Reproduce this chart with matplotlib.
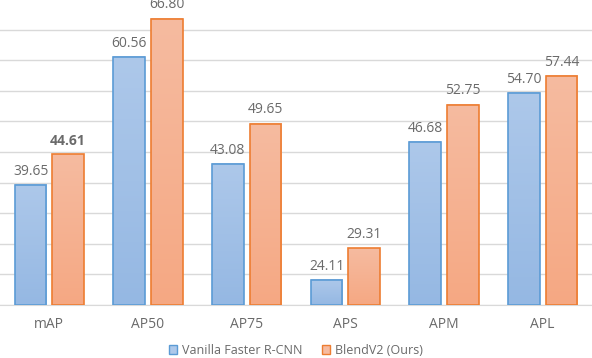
import numpy as np
import matplotlib.pyplot as plt
from matplotlib.colors import LinearSegmentedColormap

categories = ['mAP', 'AP50', 'AP75', 'APS', 'APM', 'APL']
vanilla = [39.65, 60.56, 43.08, 24.11, 46.68, 54.70]
blendv2 = [44.61, 66.80, 49.65, 29.31, 52.75, 57.44]
series_names = ['Vanilla Faster R-CNN', 'BlendV2 (Ours)']

plt.rcParams['font.family'] = ['Open Sans', 'DejaVu Sans']

fig = plt.figure(figsize=(5.92, 3.58), dpi=100)
ax = fig.add_axes([0, 53 / 358, 1, 306 / 358])

x = np.arange(len(categories))
w = 0.32
off = 0.19
ymin, ymax = 20, 70

styles = [
    (vanilla, -off, '#5b9bd5', ['#95b8e3', '#adc8ea']),
    (blendv2, off, '#ed7d31', ['#f5a883', '#f6bba0']),
]

handles = []
for (vals, dx, edge, grad), name in zip(styles, series_names):
    cmap = LinearSegmentedColormap.from_list('g', grad)
    bars = ax.bar(x + dx, np.array(vals) - ymin, w, bottom=ymin, facecolor='none',
                  edgecolor=edge, linewidth=1.2, zorder=3)
    for b in bars:
        x0, y0 = b.get_x(), b.get_y()
        x1, y1 = x0 + b.get_width(), y0 + b.get_height()
        grad_img = np.linspace(0, 1, 100).reshape(-1, 1)
        ax.imshow(grad_img, cmap=cmap, extent=[x0, x1, y0, y1], origin='lower',
                  aspect='auto', zorder=2)
    handles.append(plt.Rectangle((0, 0), 1, 1, facecolor=grad[1], edgecolor=edge, linewidth=1))
    for xi, v in zip(x + dx, vals):
        bold = (v == 44.61)
        ax.text(xi, v + 1.0, f'{v:.2f}', ha='center', va='bottom', fontsize=10,
                color='#6a6a6a', fontweight='bold' if bold else 'normal', zorder=4)

ax.set_xlim(-0.5, len(categories) - 0.5)
ax.set_ylim(ymin, ymax)
ax.set_yticks(np.arange(20, 70, 5))
ax.yaxis.grid(True, color='#d9d9d9', linewidth=1)
ax.set_axisbelow(True)
ax.tick_params(left=False, labelleft=False, bottom=False)
ax.set_xticks(x)
ax.set_xticklabels(categories, fontsize=10, color='#6a6a6a')
ax.tick_params(axis='x', pad=5)
for s in ['top', 'right', 'left']:
    ax.spines[s].set_visible(False)
ax.spines['bottom'].set_color('#d9d9d9')

fig.legend(handles, series_names, loc='center', bbox_to_anchor=(0.5, 8 / 358),
           ncol=2, frameon=False, fontsize=9, handlelength=0.7, handleheight=0.7,
           columnspacing=1.5, handletextpad=0.4, labelcolor='#6a6a6a')

fig.savefig('out.png', dpi=100)
